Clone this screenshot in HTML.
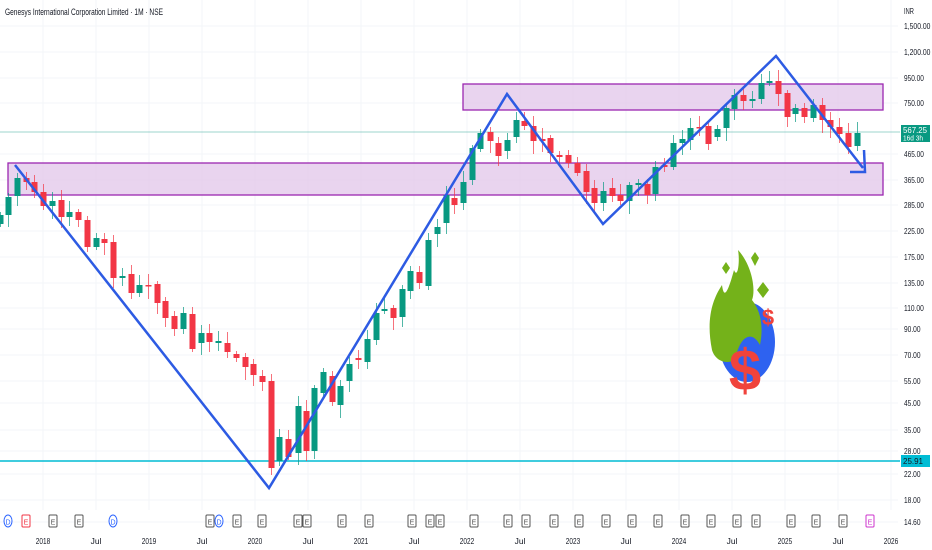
<!DOCTYPE html>
<html><head><meta charset="utf-8"><style>
html,body{margin:0;padding:0;background:#fff;}
svg{display:block;font-family:"Liberation Sans",sans-serif;}
</style></head><body>
<svg width="932" height="550" viewBox="0 0 932 550" xmlns="http://www.w3.org/2000/svg">
<rect width="932" height="550" fill="#fff"/>
<g stroke="#f3f5f9" stroke-width="1" id="grid"></g>
<text x="5" y="15" font-size="9.5" fill="#131722" textLength="158" lengthAdjust="spacingAndGlyphs">Genesys International Corporation Limited · 1M · NSE</text>
<!-- zones -->
<rect x="8" y="163" width="875" height="32" fill="#e1c6ea" fill-opacity="0.75" stroke="#9c27b0" stroke-width="1.3"/>
<rect x="463" y="84" width="420" height="26" fill="#e1c6ea" fill-opacity="0.75" stroke="#9c27b0" stroke-width="1.3"/>
<!-- price lines -->
<line x1="0" y1="132" x2="900" y2="132" stroke="#089981" stroke-opacity="0.4" stroke-width="1"/>
<line x1="0" y1="461" x2="900" y2="461" stroke="#00bcd4" stroke-width="1.5"/>
<g id="candles"></g>
<!-- logo -->
<g>
<ellipse cx="747" cy="342" rx="28" ry="40" fill="#2e62f0"/>
<path d="M712,350 C706,320 712,300 722,285 C724,300 728,292 734,270 C738,280 740,260 738,250 C752,265 756,290 752,300 C760,310 764,325 760,345 C752,330 740,335 735,360 C725,365 715,360 712,350Z" fill="#74b21a"/>
<path d="M722,268 l4,-6 l4,6 l-4,6z M751,258 l4,-6 l4,6 l-4,8z M757,290 l6,-8 l6,8 l-6,8z" fill="#74b21a"/>
<text x="745" y="390" font-size="58" font-weight="bold" fill="#f0433c" text-anchor="middle">$</text>
<text x="768" y="325" font-size="22" font-weight="bold" fill="#f0433c" text-anchor="middle">$</text>
</g>
<!-- blue lines -->
<polyline points="15,165 269,488 507,94 603,224 776,56 863,168" fill="none" stroke="#2d5be3" stroke-width="2.5" stroke-linejoin="miter"/>
<polyline points="864,150 865,172 850,172" fill="none" stroke="#2d5be3" stroke-width="2.5"/>
<!-- right axis -->
<g font-size="8.5" fill="#131722" id="yax"></g>
<rect x="901" y="125" width="29" height="17" fill="#089981"/>
<text x="903" y="133" font-size="8" fill="#fff" textLength="24" lengthAdjust="spacingAndGlyphs">567.25</text>
<text x="903" y="140.5" font-size="7" fill="#fff" textLength="20" lengthAdjust="spacingAndGlyphs">16d 3h</text>
<rect x="901" y="455" width="29" height="12" fill="#00bcd4"/>
<text x="903" y="464" font-size="8" fill="#131722" textLength="20" lengthAdjust="spacingAndGlyphs">25.91</text>
<!-- bottom -->
<g id="ev"></g>
<g font-size="8.5" fill="#131722" id="xax"></g>
</svg>
<script>
var NS="http://www.w3.org/2000/svg";
function el(p,t,a,txt){var e=document.createElementNS(NS,t);for(var k in a)e.setAttribute(k,a[k]);if(txt!=null)e.textContent=txt;document.getElementById(p).appendChild(e);return e;}
var yl=[["INR",11],["1,500.00",26],["1,200.00",52],["950.00",78],["750.00",103],["465.00",154],["365.00",180],["285.00",205],["225.00",231],["175.00",257],["135.00",283],["110.00",308],["90.00",329],["70.00",355],["55.00",381],["45.00",403],["35.00",430],["28.00",451],["22.00",474],["18.00",500],["14.60",522]];
yl.forEach(function(a){el("yax","text",{x:904,y:a[1]+3,textLength:a[0].length*3.3,lengthAdjust:"spacingAndGlyphs"},a[0]); if(a[0]!="INR") el("grid","line",{x1:0,y1:a[1],x2:898,y2:a[1]});});
var xl=["2018","Jul","2019","Jul","2020","Jul","2021","Jul","2022","Jul","2023","Jul","2024","Jul","2025","Jul","2026"];
xl.forEach(function(t,i){var x=43+i*53;el("xax","text",{x:x,y:544,"text-anchor":"middle",textLength:t.length*3.6,lengthAdjust:"spacingAndGlyphs"},t);el("grid","line",{x1:x,y1:0,x2:x,y2:510});});
var C=[[0,215,224,1],[8,197,215,1],[17,178,196,1],[26,178,182,0],[34,182,192,0],[43,192,206,0],[52,201,206,1],[61,200,217,0],[69,212,217,1],[78,212,220,0],[87,220,247,0],[96,238,247,1],[104,239,243,0],[113,242,278,0],[122,276,278,1],[131,274,293,0],[139,285,293,1],[148,285,286,0],[157,284,303,0],[165,301,318,0],[174,316,329,0],[183,313,329,1],[192,314,349,0],[201,333,343,1],[209,333,342,0],[218,341,343,1],[227,343,352,0],[236,354,358,0],[245,357,367,0],[253,364,375,0],[262,376,382,0],[271,381,468,0],[279,437,461,1],[288,439,457,0],[298,406,453,1],[306,411,451,0],[314,388,451,1],[323,372,393,1],[332,376,402,0],[340,386,405,1],[349,364,381,1],[358,358,360,0],[367,339,362,1],[376,313,340,1],[384,309,311,1],[393,308,318,0],[402,289,317,1],[410,271,291,1],[419,272,283,0],[428,240,286,1],[437,227,234,1],[446,195,223,1],[454,198,205,0],[463,182,203,1],[472,148,180,1],[480,133,149,1],[490,132,141,0],[498,143,156,0],[507,140,151,1],[516,120,137,1],[524,121,126,0],[533,126,141,0],[542,139,141,0],[550,138,153,0],[559,155,157,0],[568,155,163,0],[577,163,173,0],[586,171,192,0],[594,188,203,0],[603,191,203,1],[612,188,196,0],[620,195,201,0],[629,185,201,1],[638,183,185,1],[647,184,195,0],[655,167,194,1],[664,165,167,0],[673,143,167,1],[682,139,143,1],[690,128,140,1],[699,127,128,0],[708,126,144,0],[717,129,137,1],[726,108,128,1],[734,95,109,1],[743,95,101,0],[752,99,101,1],[761,83,99,1],[769,81,83,1],[778,81,94,0],[787,93,117,0],[795,108,114,1],[804,108,117,0],[813,105,118,1],[822,105,120,0],[830,120,127,0],[839,127,134,0],[848,133,147,0],[857,133,146,1]];
C.forEach(function(c,i){var col=c[3]?"#089981":"#f23645";var h=3+((i*37)%9),l=3+((i*53)%11);
el("candles","line",{x1:c[0]+0.5,y1:c[1]-h,x2:c[0]+0.5,y2:c[2]+l,stroke:col,"stroke-width":1,"stroke-opacity":0.7});
el("candles","rect",{x:c[0]-2.5,y:c[1],width:6,height:Math.max(1.5,c[2]-c[1]),fill:col});});
var ev=[[8,"D","#2962ff",1],[26,"E","#f23645",0],[53,"E","#555",0],[79,"E","#555",0],[113,"D","#2962ff",1],[210,"E","#555",0],[219,"D","#2962ff",1],[237,"E","#555",0],[262,"E","#555",0],[298,"E","#555",0],[307,"E","#555",0],[342,"E","#555",0],[369,"E","#555",0],[412,"E","#555",0],[430,"E","#555",0],[440,"E","#555",0],[474,"E","#555",0],[508,"E","#555",0],[526,"E","#555",0],[554,"E","#555",0],[579,"E","#555",0],[606,"E","#555",0],[632,"E","#555",0],[658,"E","#555",0],[685,"E","#555",0],[711,"E","#555",0],[737,"E","#555",0],[756,"E","#555",0],[791,"E","#555",0],[816,"E","#555",0],[843,"E","#555",0],[870,"E","#cc33cc",0]];
ev.forEach(function(e){ if(e[3]) el("ev","ellipse",{cx:e[0],cy:521,rx:4,ry:6,fill:"#fff",stroke:e[2],"stroke-width":1});
else el("ev","rect",{x:e[0]-4,y:515,width:8,height:12,rx:1,fill:"#fff",stroke:e[2],"stroke-width":1});
el("ev","text",{x:e[0],y:524.5,"font-size":7,"text-anchor":"middle",fill:e[2]},e[1]);});
</script>
</body></html>
